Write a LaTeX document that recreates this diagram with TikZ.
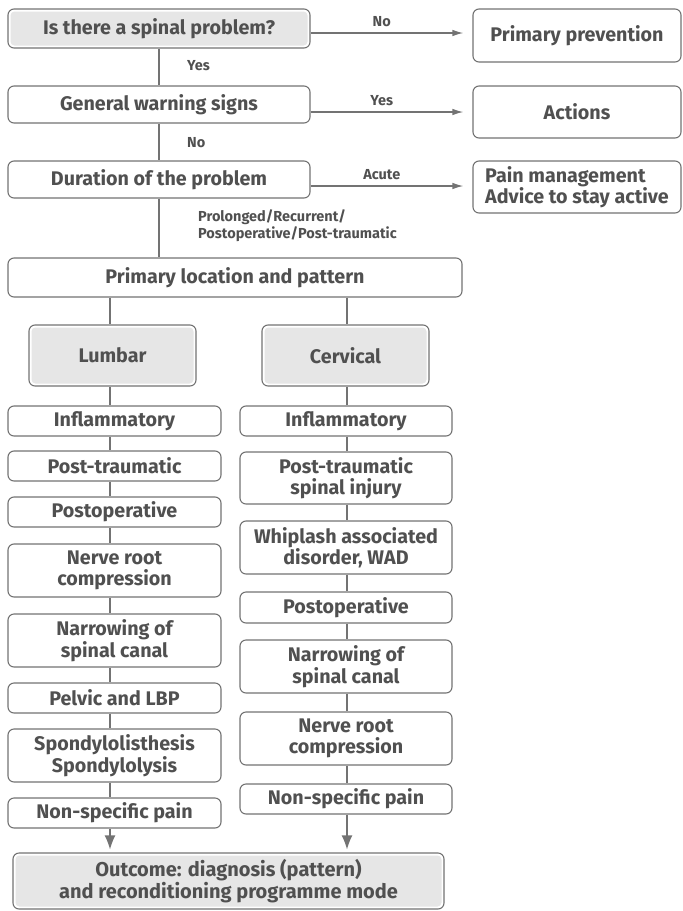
\documentclass[tikz,border=0pt]{standalone}
\usepackage{fontspec}
\setmainfont{Fira Sans}
\usetikzlibrary{arrows.meta}
\definecolor{txtgrey}{HTML}{505050}
\definecolor{linegrey}{HTML}{737373}
\definecolor{fillgrey}{HTML}{E6E6E6}

\begin{document}
\begin{tikzpicture}[x=1pt, y=-1pt,
    block/.style={rectangle, draw=linegrey, line width=1.1pt, rounded corners=6pt, fill=white, text=txtgrey, inner sep=0pt, align=center, font=\fontsize{19.7}{21.5}\selectfont\bfseries},
    shaded/.style={path picture={\fill[fillgrey, rounded corners=4pt] ([shift={(2.5pt,2.5pt)}]path picture bounding box.south west) rectangle ([shift={(-2.5pt,-2.5pt)}]path picture bounding box.north east);}},
    lcol/.style={block, minimum width=213, minimum height=#1},
    rcol/.style={block, minimum width=212, minimum height=#1},
    link/.style={draw=linegrey, line width=1.4pt},
    flow/.style={link, -{Latex[length=11pt, width=6.5pt]}},
    bigflow/.style={link, -{Latex[length=14pt, width=11pt]}},
    note/.style={text=txtgrey, inner sep=0pt, font=\fontsize{14.5}{17}\selectfont\bfseries, align=left}
]
    \useasboundingbox (0,0) rectangle (683,911);

    % Questions
    \node[block, shaded, minimum width=302, minimum height=39] (spinal) at (159,28.5) {Is there a spinal problem?};
    \node[block, minimum width=302, minimum height=37] (warning) at (159,104.5) {General warning signs};
    \node[block, minimum width=302, minimum height=37] (duration) at (159,179.5) {Duration of the problem};

    % Results on the right
    \node[block, minimum width=208, minimum height=53] (prevention) at (577,35.5) {Primary prevention};
    \node[block, minimum width=208, minimum height=52] (actions) at (577,112) {Actions};
    \node[block, minimum width=208, minimum height=52, align=left] (pain) at (577,187) {Pain management\\Advice to stay active};

    % Location and pattern
    \node[block, minimum width=454, minimum height=39] (location) at (235,277.5) {Primary location and pattern};
    \node[block, shaded, minimum width=167, minimum height=61] (lumbar) at (112.5,355.5) {Lumbar};
    \node[block, shaded, minimum width=167, minimum height=61] (cervical) at (345.5,355.5) {Cervical};

    % Lumbar column
    \node[lcol=30] (lInfl) at (114.5,421) {Inflammatory};
    \node[lcol=30] (lTrauma) at (114.5,466) {Post-traumatic};
    \node[lcol=30] (lPostop) at (114.5,512) {Postoperative};
    \node[lcol=53] (lNerve) at (114.5,570.5) {Nerve root\\compression};
    \node[lcol=53] (lNarrow) at (114.5,640.5) {Narrowing of\\spinal canal};
    \node[lcol=30] (lPelvic) at (114.5,698) {Pelvic and LBP};
    \node[lcol=53] (lSpondy) at (114.5,755.5) {Spondylolisthesis\\Spondylolysis};
    \node[lcol=30] (lNonspec) at (114.5,813) {Non-specific pain};

    % Cervical column
    \node[rcol=30] (rInfl) at (346,421) {Inflammatory};
    \node[rcol=52] (rTrauma) at (346,478) {Post-traumatic\\spinal injury};
    \node[rcol=53] (rWhip) at (346,547.5) {Whiplash associated\\disorder, WAD};
    \node[rcol=31] (rPostop) at (346,607.5) {Postoperative};
    \node[rcol=53] (rNarrow) at (346,666.5) {Narrowing of\\spinal canal};
    \node[rcol=53] (rNerve) at (346,738.5) {Nerve root\\compression};
    \node[rcol=30] (rNonspec) at (346,799) {Non-specific pain};

    % Outcome
    \node[block, shaded, minimum width=431, minimum height=56, font=\fontsize{20}{22}\selectfont\bfseries] (outcome) at (228.5,881) {Outcome: diagnosis (pattern)\\and reconditioning programme mode};

    % Branch labels
    \node[note, anchor=west] (yesDown) at (187,66) {Yes};
    \node[note, anchor=west] (noDown) at (187,143) {No};
    \node[note, anchor=west] (longDown) at (198,225.5) {Prolonged/Recurrent/\\Postoperative/Post-traumatic};

    % Connections
    \coordinate (rowA) at (0,33);
    \coordinate (rowB) at (0,112);
    \coordinate (rowC) at (0,186);
    \coordinate (lAxis) at (110,0);
    \coordinate (rAxis) at (347,0);
    \draw[flow, shorten >=9pt] (spinal.east |- rowA) -- node[note, above=6pt, pos=0.44] (noRight) {No} (prevention.west |- rowA);
    \draw[flow, shorten >=9pt] (warning.east |- rowB) -- node[note, above=6pt, pos=0.44] (yesRight) {Yes} (actions.west |- rowB);
    \draw[flow, shorten >=9pt] (duration.east |- rowC) -- node[note, above=6pt, pos=0.44] (acuteRight) {Acute} (pain.west |- rowC);
    \draw[link] (spinal) -- (warning);
    \draw[link] (warning) -- (duration);
    \draw[link] (duration) -- (duration |- location.north);
    \draw[link] (location.south -| lAxis) -- (lumbar.north -| lAxis);
    \draw[link] (location.south -| rAxis) -- (cervical.north -| rAxis);
    \foreach \a/\b in {lumbar/lInfl, lInfl/lTrauma, lTrauma/lPostop, lPostop/lNerve, lNerve/lNarrow, lNarrow/lPelvic, lPelvic/lSpondy, lSpondy/lNonspec}
        \draw[link] (\a.south -| lAxis) -- (\b.north -| lAxis);
    \foreach \a/\b in {cervical/rInfl, rInfl/rTrauma, rTrauma/rWhip, rWhip/rPostop, rPostop/rNarrow, rNarrow/rNerve, rNerve/rNonspec}
        \draw[link] (\a.south -| rAxis) -- (\b.north -| rAxis);
    \draw[bigflow, shorten >=3pt] (lNonspec.south -| lAxis) -- (outcome.north -| lAxis);
    \draw[bigflow, shorten >=3pt] (rNonspec.south -| rAxis) -- (outcome.north -| rAxis);
\end{tikzpicture}
\end{document}
